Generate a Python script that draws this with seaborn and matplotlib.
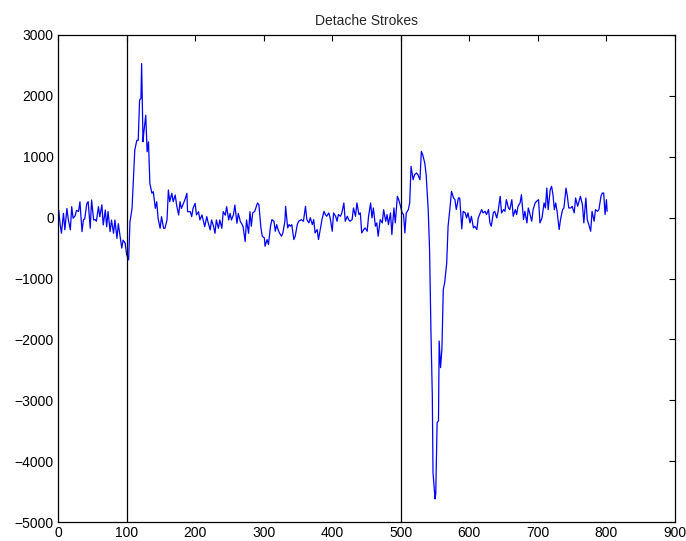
import numpy as np
import pandas as pd
import matplotlib
matplotlib.use("Agg")
import matplotlib.pyplot as plt
import seaborn as sns

# Bow-force trace for a pair of detache strokes: (sample index, amplitude)
pre_stroke = [
    (1, 125), (3, -100), (5, -257), (8, 70), (10, -200), (13, 150), (15, -30), (18, -200),
    (20, 180), (22, -10), (25, 30), (27, 120), (30, 100), (32, 260), (35, -230), (37, -40),
    (39, -20), (42, 230), (44, 262), (47, -175), (49, 290), (52, -40), (54, -30), (56, -60),
    (59, 180), (61, 15), (64, 210), (66, -120), (69, 125), (71, -150), (73, 100), (76, -230),
    (78, -40), (81, -257), (83, -40), (86, -340), (88, -100), (90, -257), (93, -500), (95, -370),
    (98, -420), (100, -600),
]
first_stroke = [
    (103, -694), (105, -66), (108, 150), (110, 617), (112, 1110), (115, 1270), (117, 1270),
    (119, 1930), (121, 1960), (122, 2530), (124, 1246), (125, 1380), (128, 1683), (130, 1082),
    (132, 1246), (134, 563), (137, 400), (139, 426), (142, 153), (144, 262), (146, -11),
    (149, -175), (151, 16), (154, -175), (156, -175), (159, -38),
]
between_strokes = [
    (161, 454), (163, 262), (166, 400), (168, 262), (171, 372), (173, 207), (176, 44), (178, 262),
    (180, 150), (183, 235), (185, 290), (188, 400), (189, 98), (193, 98), (195, 16), (197, 153),
    (200, 235), (202, 44), (205, 98), (207, -38), (210, 44), (212, -50), (214, -148), (217, 16),
    (219, -80), (222, -202), (224, -38), (227, -148), (229, -257), (231, -38), (234, -175), (236, -38),
    (239, -175), (241, 98), (244, 40), (246, 180), (249, -38), (251, 70), (253, -38), (256, 50),
    (258, 207), (261, -93), (263, 70), (266, -66), (268, -100), (270, -148), (273, -393), (275, -38),
    (278, -257), (280, 98), (282, -141), (284, 77), (287, 104), (291, 241), (293, 213), (296, -169),
    (298, -306), (301, -333), (302, -470), (305, -360), (307, -442), (310, -141), (312, -33), (315, -60),
    (317, -224), (319, -115), (321, -196), (323, -251), (326, -306), (328, -251), (331, -60), (332, 186),
    (335, -169), (337, -115), (339, -141), (341, -115), (344, -360), (346, -306), (349, -115), (351, -60),
    (355, -33), (358, -60), (361, 186), (363, -33), (366, -87), (368, 0), (371, -115), (373, -33),
    (375, -251), (378, -196), (380, -360), (383, -169), (385, -33), (388, 104), (390, 50), (392, 22),
    (395, 77), (397, -5), (400, -224), (402, 77), (405, 22), (407, -60), (409, 50), (412, 22),
    (414, 77), (417, 241), (419, -60), (422, 22), (424, -33), (426, -60), (429, -33), (431, 159),
    (434, 22), (436, 241), (439, 50), (441, 77), (443, -251), (446, -196), (448, -169), (451, -224),
    (453, 22), (456, 241), (458, -5), (460, 159), (463, -141), (465, -87), (467, -306), (470, -33),
    (473, -87), (475, 131), (478, -60), (480, 50), (482, -115), (485, 77), (487, -278), (490, 159),
    (492, -87), (495, 350), (497, 295), (499, 213),
]
second_stroke = [
    (502, 77), (504, 50), (506, -251), (508, 77), (511, 131), (513, 241), (515, 842), (518, 623),
    (520, 705), (523, 733), (525, 705), (528, 623), (530, 1088), (532, 1033), (535, 896), (537, 705),
    (540, 131), (542, -524), (544, -1863), (546, -2928), (547, -4185), (550, -4622), (551, -4540),
    (553, -3365), (555, -3338), (556, -2027), (558, -2464), (560, -2163), (562, -1180), (564, -1070),
    (567, -743), (569, -142), (572, 186), (574, 432), (577, 323), (579, 295), (581, 132), (584, 323),
    (586, 323), (589, -185),
]
tail = [
    (591, 104), (594, 77), (596, -5), (598, 77), (601, -87), (603, 22), (606, -169), (608, -142),
    (611, -196), (613, -5), (615, 50), (618, 132), (620, 77), (623, 104), (625, 50), (628, 132),
    (630, -87), (632, -142), (635, 77), (637, 104), (640, -5), (642, 104), (645, 350), (647, 77),
    (650, 132), (652, 104), (654, 295), (657, 159), (659, 132), (662, 295), (664, 22), (667, 132),
    (669, 50), (671, 186), (674, 241), (676, 377), (679, -33), (681, 104), (684, -87), (686, 159),
    (688, 77), (691, -60), (693, 132), (696, 241), (698, 268), (701, 295), (703, -87), (706, -5),
    (709, 241), (711, 159), (713, 486), (715, 131), (718, 459), (720, 514), (722, 377), (724, 131),
    (726, 241), (728, 104), (731, -196), (733, -33), (736, 131), (738, 159), (741, 486), (743, 350),
    (745, 159), (748, 159), (750, 186), (753, 77), (755, 323), (758, 186), (760, 268), (762, 350),
    (765, 213), (767, -87), (770, 323), (772, -33), (775, -142), (777, -224), (779, 104), (782, -60),
    (784, 131), (787, 104), (789, 131), (792, 350), (794, 404), (796, 404), (798, 50), (800, 295),
    (801, 104),
]

# Onset of each stroke
stroke_onsets = [100, 500]

x_ticks = list(range(0, 901, 100))
y_ticks = list(range(-5000, 3001, 1000))

trace = pd.DataFrame(
    pre_stroke + first_stroke + between_strokes + second_stroke + tail,
    columns=["sample", "amplitude"],
)

sns.set_style("white")
plt.rcParams["font.family"] = ["Liberation Sans", "DejaVu Sans"]
plt.rcParams["axes.unicode_minus"] = True

fig = plt.figure(figsize=(6.86, 5.41), dpi=100)
ax = fig.add_axes([58 / 686, 19 / 541, 617 / 686, 487 / 541])

sns.lineplot(data=trace, x="sample", y="amplitude", ax=ax, color="#0000ff",
             linewidth=0.9, estimator=None, sort=False)

for onset in stroke_onsets:
    ax.axvline(onset, color="black", linewidth=0.9)

ax.set_xlim(0, 900)
ax.set_ylim(-5000, 3000)
ax.set_xticks(x_ticks)
ax.set_yticks(y_ticks)
ax.set_xlabel("")
ax.set_ylabel("")
ax.set_title("Detache Strokes", fontsize=10, pad=7)

ax.tick_params(direction="in", length=4, width=0.8, top=True, right=True,
               labelsize=10, colors="black", pad=3)
for spine in ax.spines.values():
    spine.set_visible(True)
    spine.set_color("black")
    spine.set_linewidth(0.9)

fig.savefig("out.png", dpi=100, facecolor="white")
